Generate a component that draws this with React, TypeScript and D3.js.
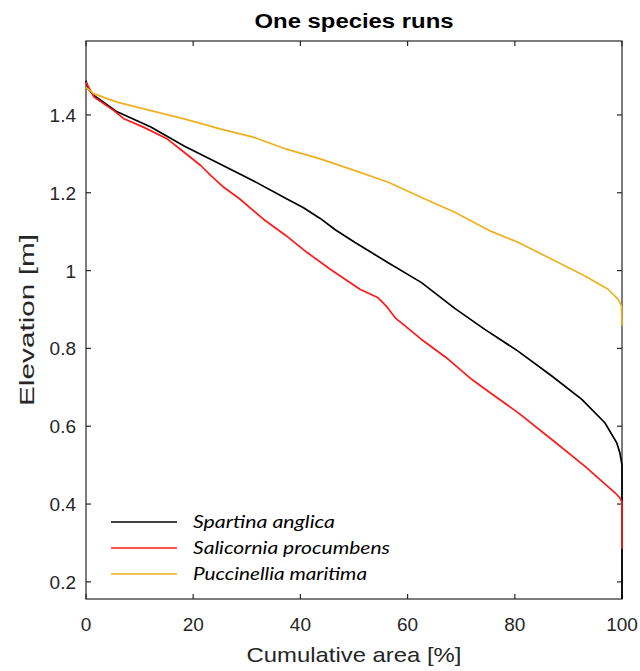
import React from "react";
import * as d3 from "d3";

const title = "One species runs";
const xLabel = "Cumulative area [%]";
const yLabel = "Elevation [m]";
const xTicks = [0, 20, 40, 60, 80, 100];
const yTicks = [0.2, 0.4, 0.6, 0.8, 1, 1.2, 1.4];
const seriesNames = ["Spartina anglica", "Salicornia procumbens", "Puccinellia maritima"];
const seriesColors = ["#000000", "#ff1a1a", "#EDB120"];

const spartinaX = [0, 0.4, 1.5, 5.8, 12.1, 18.3, 25.0, 31.2, 37.5, 40.5, 43.7, 46.5, 50.2, 56.3, 62.6, 68.8, 74.4, 80.6, 86.9, 92.5, 96.8, 99.0, 99.6, 100, 100];
const spartinaY = [1.488, 1.467, 1.45, 1.408, 1.369, 1.32, 1.274, 1.231, 1.184, 1.162, 1.134, 1.105, 1.072, 1.021, 0.969, 0.903, 0.849, 0.793, 0.729, 0.669, 0.609, 0.558, 0.532, 0.5, 0.15];

const salicorniaX = [0, 1.5, 5.2, 7.1, 10.8, 15.2, 18.3, 21.4, 23.3, 25.7, 28.7, 33.1, 37.4, 41.2, 45.5, 51.1, 54.5, 56.2, 57.8, 62.6, 67.6, 72.0, 75.4, 80.6, 86.9, 93.1, 98.7, 99.6, 100, 100];
const salicorniaY = [1.484, 1.446, 1.411, 1.39, 1.368, 1.338, 1.304, 1.27, 1.244, 1.214, 1.184, 1.132, 1.089, 1.047, 1.004, 0.952, 0.93, 0.906, 0.877, 0.823, 0.772, 0.72, 0.686, 0.635, 0.566, 0.497, 0.429, 0.416, 0.405, 0.285];

const puccinelliaX = [0, 1.5, 5.8, 12.1, 18.3, 25.0, 31.2, 37.4, 43.7, 50.2, 56.4, 62.6, 68.8, 75.4, 80.7, 86.9, 93.1, 97.4, 99.3, 99.9, 100];
const puccinelliaY = [1.471, 1.454, 1.433, 1.411, 1.39, 1.364, 1.343, 1.312, 1.287, 1.257, 1.227, 1.188, 1.15, 1.102, 1.072, 1.029, 0.986, 0.952, 0.926, 0.909, 0.858];

const seriesX = [spartinaX, salicorniaX, puccinelliaX];
const seriesY = [spartinaY, salicorniaY, puccinelliaY];

export default function App() {
  const W = 640, H = 671;
  const left = 86, right = 622, top = 41, bottom = 599;
  const x = d3.scaleLinear().domain([0, 100]).range([left, right]);
  const y = d3.scaleLinear().domain([0.156, 1.59]).range([bottom, top]);
  const axisColor = "#262626";
  const font = "'Liberation Sans', Arial, Helvetica, sans-serif";
  const tickLen = 5;

  const line = d3
    .line<[number, number]>()
    .x((d) => x(d[0]))
    .y((d) => y(d[1]));

  return (
    <svg
      width={W}
      height={H}
      style={{ position: "absolute", left: 0, top: 0, background: "#fff" }}
    >
      <rect x={0} y={0} width={W} height={H} fill="#fff" />
      <defs>
        <clipPath id="plotclip">
          <rect x={left - 2} y={top - 2} width={right - left + 4} height={bottom - top + 2} />
        </clipPath>
      </defs>
      {/* box */}
      <rect
        x={left}
        y={top}
        width={right - left}
        height={bottom - top}
        fill="none"
        stroke={axisColor}
        strokeWidth={1.2}
      />
      {/* x ticks */}
      {xTicks.map((t) => (
        <g key={"x" + t}>
          <line x1={x(t)} x2={x(t)} y1={bottom} y2={bottom - tickLen} stroke={axisColor} strokeWidth={1.2} />
          <line x1={x(t)} x2={x(t)} y1={top} y2={top + tickLen} stroke={axisColor} strokeWidth={1.2} />
          <text
            x={x(t)}
            y={631}
            textAnchor="middle"
            fontFamily={font}
            fontSize={19}
            fill={axisColor}
          >
            {t}
          </text>
        </g>
      ))}
      {/* y ticks */}
      {yTicks.map((t) => (
        <g key={"y" + t}>
          <line x1={left} x2={left + tickLen} y1={y(t)} y2={y(t)} stroke={axisColor} strokeWidth={1.2} />
          <line x1={right} x2={right - tickLen} y1={y(t)} y2={y(t)} stroke={axisColor} strokeWidth={1.2} />
          <text
            x={76}
            y={y(t) + 7}
            textAnchor="end"
            fontFamily={font}
            fontSize={19}
            fill={axisColor}
          >
            {String(t)}
          </text>
        </g>
      ))}
      {/* data lines (drawn above axes, as in the reference) */}
      <g clipPath="url(#plotclip)">
        {seriesX.map((xs, i) => (
          <path
            key={i}
            d={line(xs.map((v, j) => [v, seriesY[i][j]]) as [number, number][]) || ""}
            fill="none"
            stroke={seriesColors[i]}
            strokeWidth={1.7}
            strokeLinejoin="round"
          />
        ))}
      </g>
      {/* title */}
      <text
        x={(left + right) / 2}
        y={28}
        textAnchor="middle"
        fontFamily={font}
        fontWeight="bold"
        fontSize={20}
        fill="#000"
        textLength={199}
        lengthAdjust="spacingAndGlyphs"
      >
        {title}
      </text>
      {/* x label */}
      <text
        x={(left + right) / 2}
        y={662}
        textAnchor="middle"
        fontFamily={font}
        fontSize={21}
        fill={axisColor}
        textLength={215}
        lengthAdjust="spacingAndGlyphs"
      >
        {xLabel}
      </text>
      {/* y label */}
      <text
        transform={`translate(34, ${(top + bottom) / 2}) rotate(-90)`}
        textAnchor="middle"
        fontFamily={font}
        fontSize={21}
        fill={axisColor}
        textLength={172}
        lengthAdjust="spacingAndGlyphs"
      >
        {yLabel}
      </text>
      {/* legend */}
      {seriesNames.map((name, i) => {
        const ly = 522 + i * 26;
        const widths = [142, 197, 174];
        return (
          <g key={name}>
            <line x1={111} x2={177} y1={ly} y2={ly} stroke={seriesColors[i]} strokeWidth={1.7} />
            <text
              x={193}
              y={ly + 6}
              fontFamily="Lato, 'Open Sans', sans-serif"
              fontStyle="italic"
              fontSize={17}
              fill="#000"
              textLength={widths[i]}
              lengthAdjust="spacingAndGlyphs"
            >
              {name}
            </text>
          </g>
        );
      })}
    </svg>
  );
}
